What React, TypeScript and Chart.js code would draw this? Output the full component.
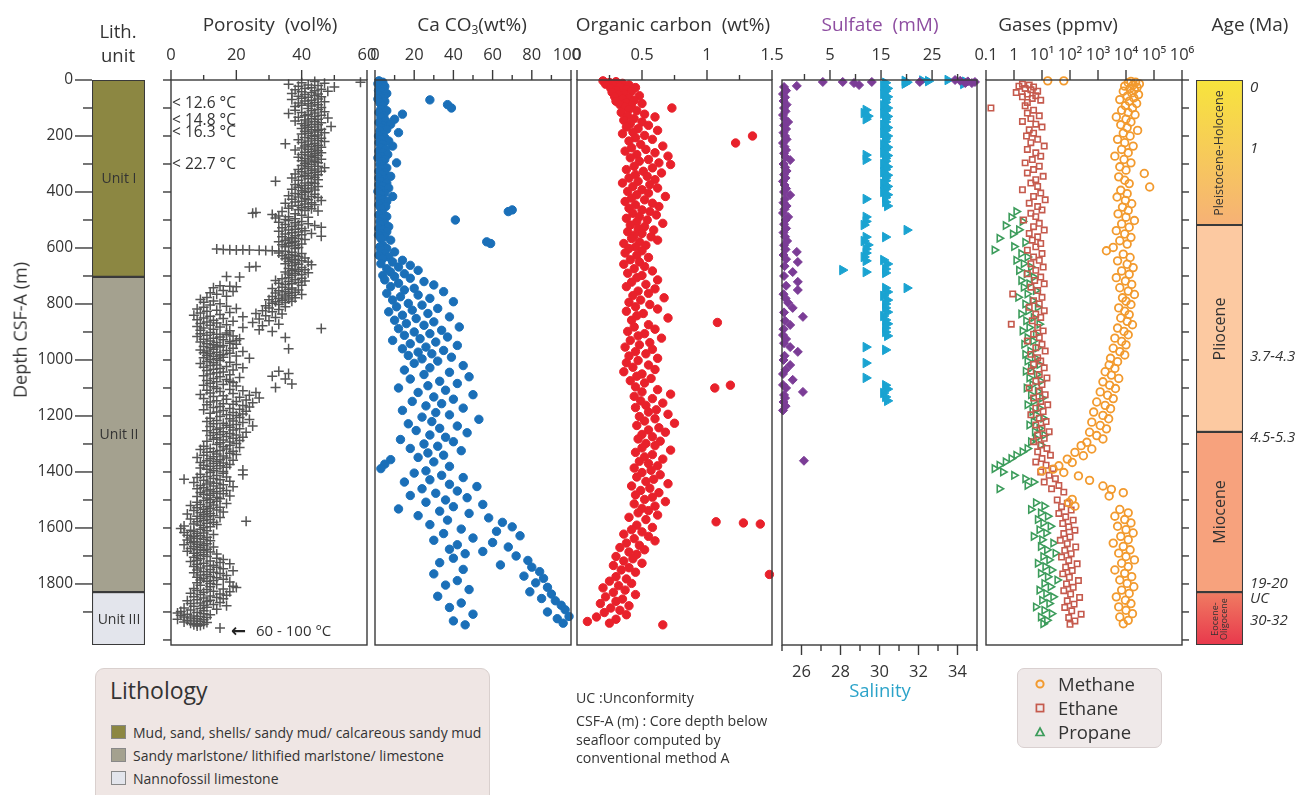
import React, { useEffect, useRef } from 'react';
import { Chart, registerables } from 'chart.js';
Chart.register(...registerables);

const FONT = '"Open Sans", "DejaVu Sans", sans-serif';
const TEXT = '#333333';
const FRAME = '#3a3a3a';
const DEPTH_MAX = 2018;
const PAD = 30;

// ---------- tick labels ----------
const depthTickLabels = [0, 200, 400, 600, 800, 1000, 1200, 1400, 1600, 1800];
const depthMinorTicks = [100, 300, 500, 700, 900, 1100, 1300, 1500, 1700, 1900];
const depthHundreds = [0, 100, 200, 300, 400, 500, 600, 700, 800, 900, 1000, 1100, 1200, 1300, 1400, 1500, 1600, 1700, 1800, 1900, 2000];
const porosityTicks = [0, 20, 40, 60];
const porosityMinor = [10, 30, 50];
const caco3Ticks = [0, 20, 40, 60, 80, 100];
const caco3TickLabels = ['0', '20', '40', '60', '80', '100\u2002'];
const caco3Minor = [10, 30, 50, 70, 90];
const orgCTicks = [0, 0.5, 1, 1.5];
const orgCTickLabels = ['0', '0.5', '1', '1.5'];
const orgCMinor = [0.25, 0.75, 1.25];
const sulfateTicks = [5, 15, 25];
const sulfateMinor = [0, 10, 20, 30];
const salinityTicks = [26, 28, 30, 32, 34];
const salinityMinor = [25, 27, 29, 31, 33, 35];
const gasTicks = [0.1, 1, 10, 100, 1000, 10000, 100000, 1000000];
const gasTickLabels = ['0.1', '1', '10\u00b9', '10\u00b2', '10\u00b3', '10\u2074', '10\u2075', '10\u2076'];

// ---------- lithology & age ----------
const lithUnits = ['Unit I', 'Unit II', 'Unit III'];
const lithTops = [0, 703, 1829];
const lithBases = [703, 1829, 2018];
const lithColors = ['#8c8742', '#a4a18f', '#e3e5ec'];
const lithLegend = ['Mud, sand, shells/ sandy mud/ calcareous sandy mud', 'Sandy marlstone/ lithified marlstone/ limestone', 'Nannofossil limestone'];

const ageEpochs = ['Pleistocene-Holocene', 'Pliocene', 'Miocene', 'Eocene-\nOligocene'];
const ageTops = [0, 518, 1257, 1829];
const ageBases = [518, 1257, 1829, 2018];
const ageColorTop = ['#f7e43c', '#fcc9a1', '#f7a27d', '#f07c62'];
const ageColorBottom = ['#f6b176', '#fcc9a1', '#f7a27d', '#e8384c'];
const ageLabels = ['0', '1', '3.7-4.3', '4.5-5.3', '19-20', 'UC', '30-32'];
const ageLabelDepths = [25, 243, 986, 1275, 1796, 1850, 1929];

// ---------- data: [depth (m), value] ----------
const porosityData = [
  [5,44],[8,58],[10,40],[12,47],[15,36],[18,42],[20,45],[22,39],[25,50],[28,43],[30,41],[33,46],[35,38],[38,44],[40,48],[42,40],[45,43],[48,37],[50,45],[52,41],[55,44],[58,39],[60,46],[62,42],[65,40],[68,45],[70,37],[72,43],[75,41],[78,47],[80,44],[82,39],[85,42],[88,45],[90,40],[93,43],[95,38],[98,46],
  [102,42],[105,45],[108,38],[110,43],[113,47],[116,40],[118,44],[120,36],[123,42],[126,46],[128,41],[130,44],[133,39],[136,48],[138,43],[140,45],[143,41],[146,38],[148,44],[150,42],[153,46],[156,40],[158,43],[160,45],[163,41],[166,49],[168,44],[170,42],[173,40],[176,46],[178,43],[180,45],[183,41],[186,44],[188,47],[190,42],[193,40],[196,45],[198,43],
  [202,44],[205,41],[208,46],[210,43],[213,39],[216,45],[218,42],[220,47],[223,40],[226,44],[228,35],[230,42],[233,45],[236,41],[238,43],[240,46],[243,40],[246,44],[248,42],[250,38],[253,45],[256,43],[258,41],[260,46],[263,44],[266,40],[268,42],[270,45],[273,43],[276,39],[278,44],[280,41],[283,46],[286,43],[288,40],[290,44],[293,42],[296,45],[298,41],
  [302,43],[305,40],[308,45],[310,42],[313,47],[316,41],[318,44],[320,39],[323,43],[326,46],[328,40],[330,44],[333,42],[336,38],[338,45],[340,41],[343,43],[346,40],[348,44],[350,37],[353,42],[356,45],[358,39],[362,32],[365,43],[368,41],[370,44],[373,38],[376,42],[378,40],[380,45],[383,39],[386,43],[388,41],[390,37],[393,44],[396,40],[398,42],
  [402,41],[405,38],[408,44],[410,40],[413,36],[416,43],[418,39],[420,45],[423,41],[426,37],[428,42],[430,46],[433,40],[436,38],[438,43],[440,35],[443,41],[446,44],[448,39],[450,37],[453,42],[456,40],[458,36],[460,43],[463,39],[466,41],[468,45],[470,34],[473,26],[476,25],[478,38],[480,31],[483,40],[486,33],[488,36],[490,42],[493,32],[496,38],[498,35],
  [502,36],[505,40],[508,33],[510,38],[513,42],[516,35],[518,39],[520,44],[523,37],[526,46],[528,34],[530,40],[533,38],[536,36],[538,41],[540,33],[543,39],[546,37],[548,43],[550,35],[553,40],[556,38],[558,46],[560,34],[563,37],[566,39],[568,36],[570,41],[573,35],[576,38],[578,33],[580,37],[583,36],[586,40],[588,34],[590,38],[593,36],[596,35],[598,39],
  [602,38],[604,14],[605,16],[606,18],[607,20],[606,22],[607,24],[608,27],[609,29],[610,31],[611,33],[612,35],[615,37],[618,33],[620,40],[623,36],[626,38],[628,34],[630,39],[633,36],[636,41],[638,35],[640,38],[643,37],[646,40],[648,36],[650,42],[653,38],[656,35],[658,39],[660,43],[663,37],[666,26],[668,24],[670,40],[673,36],[676,38],[678,41],[680,37],[683,39],[686,35],[688,42],[690,38],[693,36],[696,40],[698,37],
  [702,17],[704,21],[706,36],[708,40],[710,34],[713,38],[716,32],[718,41],[720,36],[723,39],[726,33],[728,37],[730,35],[733,40],[735,15],[737,18],[738,20],[740,34],[742,13],[743,37],[745,31],[748,36],[750,39],[752,16],[753,33],[755,19],[756,35],[758,38],[760,12],[761,32],[763,36],[765,14],[766,40],[768,34],[770,37],[772,17],[773,31],[775,35],[777,11],[778,38],[780,33],[782,36],[784,9],[785,30],[787,34],[789,13],[790,37],[792,32],[794,10],[795,35],[797,31],[799,15],
  [802,33],[804,12],[806,29],[808,17],[810,35],[812,10],[814,30],[816,20],[818,8],[820,33],[822,14],[824,28],[826,11],[828,31],[830,18],[832,9],[834,26],[836,34],[838,15],[840,7],[842,29],[844,12],[846,22],[848,32],[850,10],[852,16],[854,27],[856,8],[858,13],[860,30],[862,19],[864,11],[866,25],[868,14],[870,9],[872,33],[874,17],[876,12],[878,28],[880,8],[882,15],[884,22],[886,10],[888,46],[890,13],[892,27],[894,9],[896,18],[898,31],
  [902,12],[904,17],[906,9],[908,14],[910,17],[912,11],[914,19],[916,8],[918,15],[920,35],[922,13],[924,21],[926,10],[928,16],[930,20],[932,12],[934,18],[936,9],[938,14],[940,18],[942,11],[944,20],[946,13],[948,16],[950,14],[952,10],[954,15],[956,12],[958,19],[960,36],[962,13],[964,9],[966,17],[968,11],[970,22],[972,14],[974,10],[976,18],[978,12],[980,16],[982,15],[984,11],[986,20],[988,13],[990,16],[992,10],[994,24],[996,14],[998,12],
  [1002,15],[1005,11],[1008,18],[1010,13],[1013,9],[1016,20],[1018,14],[1020,12],[1023,17],[1026,10],[1028,22],[1030,15],[1033,13],[1036,19],[1038,11],[1040,33],[1043,16],[1046,14],[1048,36],[1050,12],[1053,18],[1056,10],[1058,31],[1060,15],[1063,21],[1066,13],[1068,35],[1070,17],[1073,11],[1076,18],[1078,14],[1080,19],[1083,12],[1086,37],[1088,16],[1090,10],[1093,20],[1096,13],[1098,32],
  [1102,14],[1105,18],[1108,11],[1110,22],[1113,15],[1116,26],[1118,12],[1120,19],[1123,9],[1126,24],[1128,16],[1130,13],[1133,21],[1136,27],[1138,10],[1140,17],[1143,23],[1146,14],[1148,20],[1150,12],[1153,25],[1156,16],[1158,19],[1160,11],[1163,22],[1166,15],[1168,24],[1170,13],[1173,18],[1176,21],[1178,10],[1180,16],[1183,23],[1186,14],[1188,19],[1190,12],[1193,22],[1196,17],[1198,20],
  [1202,15],[1205,21],[1208,12],[1210,18],[1213,24],[1216,14],[1218,19],[1220,11],[1223,22],[1226,16],[1228,13],[1230,20],[1233,17],[1236,25],[1238,12],[1240,18],[1243,15],[1246,21],[1248,14],[1250,19],[1253,11],[1256,16],[1258,23],[1260,13],[1263,18],[1266,15],[1268,20],[1270,12],[1273,17],[1276,22],[1278,14],[1280,19],[1283,13],[1286,16],[1288,21],[1290,11],[1293,18],[1296,15],[1298,20],
  [1302,14],[1305,18],[1308,10],[1310,16],[1313,21],[1316,12],[1318,17],[1320,9],[1323,15],[1326,19],[1328,13],[1330,11],[1333,18],[1336,14],[1338,20],[1340,10],[1343,16],[1346,13],[1348,8],[1350,17],[1353,12],[1356,15],[1358,19],[1360,11],[1363,14],[1366,9],[1368,16],[1370,13],[1373,18],[1376,10],[1378,15],[1380,12],[1383,17],[1386,9],[1388,14],[1390,11],[1393,22],[1396,13],[1398,16],
  [1402,12],[1405,16],[1408,9],[1410,22],[1413,14],[1416,11],[1418,17],[1420,8],[1423,13],[1426,4],[1428,15],[1430,10],[1433,18],[1436,12],[1438,7],[1440,14],[1443,11],[1446,16],[1448,9],[1450,13],[1453,19],[1456,10],[1458,15],[1460,8],[1463,12],[1466,17],[1468,11],[1470,14],[1473,9],[1476,13],[1478,16],[1480,10],[1483,12],[1486,18],[1488,8],[1490,14],[1493,11],[1496,15],[1498,12],
  [1502,10],[1505,14],[1508,8],[1510,12],[1513,17],[1516,9],[1518,13],[1520,6],[1523,11],[1526,15],[1528,8],[1530,12],[1533,10],[1536,14],[1538,7],[1540,11],[1543,16],[1546,9],[1548,12],[1550,5],[1553,10],[1556,13],[1558,8],[1560,11],[1563,15],[1566,9],[1568,6],[1570,12],[1573,10],[1576,23],[1578,8],[1580,13],[1583,11],[1586,7],[1588,14],[1590,9],[1593,4],[1596,12],[1598,10],
  [1602,3],[1605,9],[1608,6],[1610,11],[1613,7],[1616,4],[1618,10],[1620,8],[1623,13],[1626,5],[1628,9],[1630,7],[1633,11],[1636,6],[1638,8],[1640,10],[1643,5],[1646,12],[1648,7],[1650,9],[1653,6],[1656,11],[1658,8],[1660,4],[1663,10],[1666,7],[1668,13],[1670,9],[1673,6],[1676,11],[1678,8],[1680,10],[1683,5],[1686,12],[1688,9],[1690,7],[1693,14],[1696,10],[1698,8],
  [1702,11],[1705,7],[1708,14],[1710,9],[1713,16],[1716,8],[1718,12],[1720,6],[1723,15],[1726,10],[1728,18],[1730,8],[1733,13],[1736,11],[1738,7],[1740,14],[1743,9],[1746,16],[1748,12],[1750,8],[1753,19],[1756,10],[1758,13],[1760,7],[1763,15],[1766,11],[1768,9],[1770,17],[1773,12],[1776,8],[1778,14],[1780,10],[1783,16],[1786,9],[1788,13],[1790,11],[1793,18],[1796,8],[1798,12],
  [1802,14],[1805,9],[1808,19],[1810,12],[1813,20],[1816,7],[1818,16],[1820,11],[1823,8],[1826,13],[1828,18],[1830,10],[1833,6],[1836,15],[1838,9],[1840,17],[1843,12],[1846,7],[1848,14],[1850,10],[1853,16],[1856,8],[1858,12],[1860,5],[1863,11],[1866,15],[1868,9],[1870,6],[1873,13],[1876,10],[1878,17],[1880,7],[1883,11],[1886,4],[1888,9],[1890,14],[1893,6],[1896,10],[1898,3],
  [1902,8],[1904,2],[1906,10],[1908,5],[1910,12],[1912,3],[1914,7],[1916,9],[1918,4],[1920,11],[1922,6],[1924,8],[1926,2],[1928,10],[1930,5],[1932,7],[1934,9],[1936,4],[1938,11],[1940,6],[1942,8],[1944,10],[1946,7],[1948,9],[1950,8],[1957,15]
];

const caco3Data = [
  [3,2],[8,4],[13,1.5],[18,3],[23,5],[28,2.5],[33,4],[38,1.8],[43,3.5],[48,6],[53,2],[58,4.5],[63,3],[68,1.5],[71,28],[76,5],[82,2.5],[88,37],[93,4],[100,39],[104,3],[110,6],[116,2],[122,14],[128,4.5],[134,3],[140,10],[146,5.5],[152,2],[158,8],[164,4],[170,3],[176,6],[182,2.5],[188,12],[194,4],[200,1.8],[206,5],[212,3],[218,7],[224,2],[230,4],[236,9],[242,3],[248,5.5],[254,2],[260,4],[266,6.5],[272,3],[278,1.5],[284,5],[290,3.5],[296,11],
  [302,2.5],[308,4],[314,6],[320,3],[326,2],[332,5],[338,3.5],[344,8],[350,2],[356,4.5],[362,3],[368,6],[374,2],[380,4],[386,7],[392,3],[398,1.5],[404,5],[410,3],[416,9],[422,2.5],[428,4],[434,6],[440,3],[446,2],[452,5.5],[458,3],[464,70],[470,68],[476,4],[482,2],[488,6],[494,3.5],[500,41],[506,2.5],[512,5],[518,3],[524,7],[530,2],[536,4],[542,6],[548,3],[554,1.8],[560,5],[566,3],[572,8],[578,57],[584,59],[590,4],[596,2.5],[602,6],[608,3],[614,10],[620,5],[626,2],[632,7],[638,4],[644,14],[650,9],[656,3],[662,18],[668,12],[674,6],[680,22],[686,8],[692,15],[698,4],
  [702,10],[708,18],[714,5],[720,25],[726,12],[732,30],[738,8],[744,20],[750,15],[756,35],[762,6],[768,22],[774,13],[780,28],[786,9],[792,40],[798,17],[804,24],[810,11],[816,32],[822,19],[828,7],[834,27],[840,14],[846,38],[852,21],[858,10],[864,30],[870,16],[876,25],[882,43],[888,12],[894,34],[900,20],[906,28],[912,15],[918,37],[924,23],[930,9],[936,31],[942,18],[948,42],[954,26],[960,14],[966,35],[972,22],[978,29],[984,17],[990,39],[996,24],
  [1004,32],[1012,20],[1020,45],[1028,28],[1036,15],[1044,38],[1052,25],[1060,48],[1068,18],[1076,33],[1084,42],[1092,27],[1100,12],[1108,36],[1116,22],[1124,50],[1132,30],[1140,40],[1148,19],[1156,34],[1164,26],[1172,45],[1180,14],[1188,31],[1196,38],[1204,24],[1212,53],[1220,29],[1228,17],[1236,42],[1244,33],[1252,21],[1260,47],[1268,28],[1276,36],[1284,13],[1292,40],[1300,25],[1308,32],[1316,18],[1324,44],[1332,27],[1340,35],[1348,22],[1356,8],[1364,30],[1372,5],[1380,38],[1388,3],[1396,26],
  [1404,20],[1412,34],[1420,45],[1428,28],[1436,15],[1444,38],[1452,52],[1460,24],[1468,42],[1476,31],[1484,18],[1492,47],[1500,36],[1508,26],[1516,55],[1524,40],[1532,12],[1540,33],[1548,48],[1556,22],[1564,58],[1572,37],[1580,65],[1588,28],[1596,70],[1604,44],[1612,62],[1620,35],[1628,74],[1636,50],[1644,30],[1652,60],[1660,42],[1668,68],[1676,38],[1684,55],[1692,46],
  [1700,72],[1708,40],[1716,78],[1724,33],[1732,64],[1740,80],[1748,45],[1756,84],[1764,30],[1772,76],[1780,86],[1788,42],[1796,82],[1804,36],[1812,88],[1820,48],[1828,79],[1836,90],[1844,32],[1852,85],[1860,92],[1868,44],[1876,95],[1884,38],[1892,97],[1900,88],[1908,50],[1916,99],[1924,93],[1932,40],[1940,96],[1946,46]
];

const orgCData = [
  [3,0.2],[6,0.3],[9,0.25],[12,0.35],[15,0.22],[18,0.4],[21,0.28],[24,0.33],[27,0.45],[30,0.26],[33,0.38],[36,0.3],[40,0.42],[44,0.27],[48,0.36],[52,0.32],[56,0.48],[60,0.29],[64,0.4],[68,0.35],[72,0.44],[76,0.3],[80,0.38],[84,0.5],[88,0.33],[92,0.42],[96,0.37],[100,0.73],
  [104,0.4],[110,0.46],[116,0.34],[122,0.52],[128,0.39],[132,0.6],[138,0.44],[144,0.36],[150,0.5],[156,0.41],[162,0.55],[168,0.38],[174,0.47],[180,0.62],[186,0.43],[192,0.35],[198,0.52],[200,1.35],[206,0.45],[212,0.58],[218,0.4],[225,1.22],[230,0.49],[236,0.66],[242,0.42],[248,0.53],[254,0.37],[260,0.6],[266,0.46],[272,0.7],[278,0.41],[284,0.55],[290,0.48],[296,0.63],
  [302,0.72],[308,0.44],[314,0.58],[320,0.38],[326,0.51],[332,0.65],[338,0.45],[344,0.54],[350,0.4],[356,0.6],[362,0.47],[368,0.35],[374,0.56],[380,0.43],[386,0.62],[392,0.5],[398,0.39],[404,0.55],[410,0.46],[416,0.68],[422,0.42],[428,0.52],[434,0.37],[440,0.58],[446,0.45],[452,0.63],[458,0.4],[464,0.5],[470,0.56],[476,0.43],[482,0.61],[488,0.48],[494,0.38],[500,0.54],[506,0.46],[512,0.66],[518,0.41],[524,0.52],[530,0.47],[536,0.59],[542,0.39],[548,0.5],[554,0.44],[560,0.57],[566,0.42],[572,0.62],[578,0.48],[584,0.36],[590,0.53],[596,0.45],
  [602,0.4],[610,0.5],[618,0.37],[626,0.46],[634,0.55],[642,0.41],[650,0.48],[658,0.36],[666,0.52],[674,0.44],[682,0.58],[690,0.39],[698,0.5],[706,0.46],[714,0.62],[722,0.42],[730,0.53],[738,0.38],[746,0.6],[754,0.47],[762,0.55],[770,0.43],[778,0.67],[786,0.49],[794,0.4],[802,0.56],[810,0.45],[818,0.62],[826,0.38],[834,0.51],[842,0.46],[850,0.7],[858,0.42],[866,1.08],[874,0.55],[882,0.44],[890,0.6],[898,0.39],[906,0.52],[914,0.47],[922,0.65],[930,0.41],[938,0.56],[946,0.48],[954,0.37],[962,0.58],[970,0.45],[978,0.53],[986,0.4],[994,0.62],
  [1002,0.47],[1010,0.38],[1018,0.55],[1026,0.43],[1034,0.6],[1042,0.36],[1050,0.5],[1058,0.46],[1066,0.57],[1074,0.41],[1082,0.52],[1090,1.18],[1096,0.45],[1100,1.06],[1106,0.62],[1114,0.5],[1122,0.72],[1130,0.44],[1138,0.58],[1146,0.49],[1154,0.66],[1162,0.53],[1170,0.45],[1178,0.61],[1186,0.55],[1194,0.7],[1202,0.48],[1210,0.6],[1218,0.52],[1226,0.75],[1234,0.46],[1242,0.63],[1250,0.55],[1258,0.68],[1266,0.5],[1274,0.58],[1282,0.47],[1290,0.64],[1298,0.53],
  [1306,0.6],[1314,0.5],[1322,0.72],[1330,0.45],[1338,0.58],[1346,0.52],[1354,0.66],[1362,0.48],[1370,0.55],[1378,0.62],[1386,0.44],[1394,0.57],[1402,0.5],[1410,0.64],[1418,0.46],[1426,0.59],[1434,0.53],[1442,0.7],[1450,0.42],[1458,0.56],[1466,0.49],[1474,0.63],[1482,0.45],[1490,0.58],[1498,0.52],[1506,0.68],[1514,0.44],[1522,0.6],[1530,0.5],[1538,0.55],[1546,0.47],[1554,0.62],[1562,0.4],[1570,0.53],[1578,1.07],[1582,1.28],[1586,1.41],[1590,0.46],
  [1598,0.58],[1606,0.42],[1614,0.5],[1622,0.36],[1630,0.55],[1638,0.44],[1646,0.6],[1654,0.38],[1662,0.48],[1670,0.33],[1678,0.52],[1686,0.4],[1694,0.46],[1702,0.3],[1710,0.43],[1718,0.36],[1726,0.5],[1734,0.28],[1742,0.4],[1750,0.34],[1758,0.45],[1766,1.48],[1774,0.3],[1782,0.38],[1790,0.25],[1798,0.42],[1806,0.32],[1814,0.2],[1822,0.37],[1830,0.28],[1838,0.45],[1846,0.22],[1854,0.35],[1862,0.3],[1870,0.18],[1878,0.4],[1886,0.26],[1894,0.33],[1902,0.21],[1910,0.38],[1918,0.15],[1926,0.3],[1934,0.08],[1940,0.25],[1946,0.66]
];

const sulfateData = [
  [0,29.5],[7,3.6],[7,7.5],[11,9.7],[18,10.7],[7,13.2],[7,22.6],[11,31.5],[11,32.8],[7,33.4],[21,-1.5],[3,30.5],[5,32],
  [25,-4.0],[38,-3.6],[50,-4.2],[62,-3.8],[75,-4.1],[88,-3.5],[100,-4.0],[112,-3.7],[125,-4.2],[138,-3.9],[150,-3.2],[162,-4.0],[175,-3.6],[188,-4.1],[200,-3.8],[212,-3.5],[225,-4.2],[238,-3.9],[250,-3.6],[262,-4.0],[275,-3.7],[286,-2.8],[300,-4.1],[312,-3.8],[325,-3.5],[338,-4.0],[350,-3.7],[362,-4.2],[375,-3.9],[388,-3.6],[400,-4.0],[411,-2.8],[425,-3.8],[438,-4.1],[450,-3.5],[462,-3.9],[475,-4.2],[489,-3.2],[500,-3.7],[515,-4.0],[530,-3.6],[545,-4.1],[560,-3.8],[575,-3.4],[590,-4.0],[605,-3.7],[614,-1.5],[625,-4.1],[640,-3.6],[650,-1.3],[665,-3.9],[686,-2.3],[700,-4.0],[721,-1.3],[735,-3.6],[750,-1.3],[765,-4.1],[780,-3.7],[796,-3.2],[814,-2.3],[830,-4.0],[846,-0.3],[860,-3.8],[875,-2.8],[890,-4.1],[911,-4.2],[925,-3.6],[940,-4.0],[954,-2.8],[971,-1.3],[985,-3.9],[1000,-4.1],[1018,-2.8],[1035,-3.7],[1050,-4.2],[1071,-2.3],[1089,-4.2],[1100,-3.6],[1114,-0.3],[1125,-4.0],[1136,-3.8],[1150,-4.1],[1165,-3.7],[1180,-4.2],[1360,-0.1]
];

const salinityData = [
  [3,31.3],[8,31.4],[13,31.3],[0,33.5],[6,34.4],[14,34.3],[2,32.2],[4,32.5],
  [10,30.3],[20,30.2],[30,30.4],[40,30.3],[50,30.2],[60,30.4],[70,30.3],[80,30.3],[90,30.2],[100,30.4],[110,30.3],[120,30.2],[130,30.4],[140,30.3],[150,30.3],[160,30.2],[170,30.4],[180,30.3],[190,30.2],[200,30.4],[210,30.3],[220,30.3],[230,30.2],[240,30.4],[250,30.3],[260,30.2],[270,30.4],[280,30.3],[290,30.3],[300,30.2],[310,30.4],[320,30.3],[330,30.2],[340,30.4],[350,30.3],[360,30.3],[370,30.2],[380,30.4],[390,30.3],[400,30.2],[410,30.4],[420,30.3],
  [436,30.3],[450,30.4],[561,30.3],[643,30.2],[657,30.4],[675,30.3],[689,30.3],[743,30.3],[757,30.4],[771,30.2],[786,30.4],[800,30.3],[814,30.3],[829,30.4],[843,30.2],[857,30.3],[871,30.4],[886,30.3],[900,30.3],[914,30.4],[964,30.3],[1090,30.3],[1104,30.4],[1118,30.2],[1132,30.3],[1146,30.4],
  [107,29.3],[118,29.2],[129,29.4],[140,29.3],[268,29.3],[285,29.3],[425,29.3],[489,29.3],[505,29.3],[518,29.2],[561,29.3],[575,29.2],[589,29.4],[604,29.3],[618,29.3],[632,29.2],[646,29.3],[686,29.3],[954,29.3],[1011,29.3],[1064,29.3],
  [536,31.4],[743,31.4],[679,28.1]
];

const methaneData = [
  [3,16],[3,60],[5,15000],[8,22000],[10,12000],[14,30000],[18,18000],[22,9000],[26,25000],[30,14000],[35,20000],[40,8000],[46,16000],[52,28000],[58,11000],[64,19000],[70,6000],[76,13000],[84,24000],[92,9500],[100,17000],[108,7000],[116,12000],[124,21000],[132,4500],[140,10000],[150,15000],[160,6500],[170,11000],[180,26000],[190,8000],[200,14000],[212,5000],[224,9000],[236,18000],[248,7000],[260,12000],[272,4000],[284,8500],[296,15000],[310,6000],[322,10000],[334,45000],[346,5500],[358,9000],[370,13000],[382,70000],[394,6500],[406,11000],[418,4800],[430,9500],[442,16000],[454,7500],[466,12000],[478,5200],[490,10000],[502,20000],[514,7000],[526,13000],[538,4500],[550,9000],[562,15000],[574,6000],[586,11000],[598,3500],
  [610,2000],[622,8000],[634,14000],[646,5000],[658,11000],[670,18000],[682,7000],[694,13000],[706,4500],[718,9500],[730,16000],[742,6000],[754,12000],[766,20000],[778,7500],[790,10000],[802,15000],[814,5500],[826,9000],[838,13000],[850,6500],[862,11000],[874,17000],[886,5000],[898,8500],[910,12000],[922,4000],[934,7000],[946,10000],[958,3500],[970,6000],[982,9000],[994,2800],
  [1006,5000],[1018,2500],[1030,4000],[1042,1800],[1054,3000],[1066,5500],[1078,1500],[1090,2600],[1102,4200],[1114,1200],[1126,2200],[1138,3500],[1150,900],[1162,1800],[1174,2800],[1186,700],[1198,1500],[1210,2400],[1222,600],[1234,1200],[1246,2000],[1258,500],[1270,900],[1282,1500],
  [1294,400],[1306,250],[1318,600],[1330,150],[1342,300],[1354,80],[1366,120],[1378,40],[1390,25],[1396,10],[1402,60],[1414,200],[1430,500],[1450,1500],
  [1462,3000],[1474,8000],[1486,2500],[1498,120],[1510,90],[1522,150],[1534,6000],[1546,12000],[1558,4000],[1570,9000],[1582,15000],[1594,5000],[1606,10000],[1618,18000],[1630,6500],[1642,12000],[1654,3500],[1666,8000],[1678,14000],[1690,5500],[1702,10000],[1714,20000],[1726,7000],[1738,12000],[1750,4000],[1762,9000],[1774,16000],[1786,6000],[1798,11000],[1810,19000],[1822,7000],[1834,13000],[1846,4500],[1858,9500],[1870,15000],[1882,5500],[1894,10000],[1906,17000],[1918,6000],[1930,12000],[1942,8000]
];

const ethaneData = [
  [15,2],[18,3.5],[22,1.5],[25,5],[30,2.5],[35,4],[40,7],[45,1.2],[50,3],[56,6],[60,2],[66,4.5],[72,9],[80,3],[92,2.5],[100,0.15],[108,5],[118,3],[128,8],[138,4],[148,2],[158,6],[168,10],[178,3.5],[190,5],[200,2.8],[212,7],[224,4],[236,12],[248,3],[260,6],[272,9],[284,4.5],[296,2.5],[308,8],[320,5],[332,3],[344,11],[356,6],[368,4],[380,7],[392,2],[404,9],[416,5],[428,13],[440,3.5],[452,7],[464,10],[476,4],[488,6],[500,2.2],[512,8],[524,5],[536,12],[548,3.5],[560,7],[572,4.5],[584,9],[596,6],[608,3],[620,10],[632,5],[644,8],[656,4],[668,11],[680,6],[692,3],[704,9],[716,5.5],[728,12],[740,4],[752,7],[764,0.9],[776,10],[788,5],[800,8],[812,3.5],[824,12],[836,6],[848,9],[860,4.5],[872,0.8],[884,7],[896,11],[908,5],[920,8],[932,3],[944,10],[956,6],[968,13],[980,4],[992,7],
  [1004,9],[1016,5],[1028,12],[1040,4],[1052,8],[1064,15],[1076,6],[1088,10],[1100,3.5],[1112,8],[1124,13],[1136,5],[1148,9],[1160,16],[1172,6],[1184,11],[1196,4],[1208,8],[1220,14],[1232,6],[1244,10],[1256,18],[1268,7],[1280,12],[1292,5],[1304,9],[1316,15],[1328,7],[1340,20],[1352,10],[1364,6],[1376,14],[1388,25],[1400,9],[1412,18],[1424,30],[1436,12],[1448,40],[1460,22],[1472,60],
  [1500,35],[1512,80],[1524,50],[1536,110],[1548,40],[1560,70],[1572,130],[1584,55],[1596,90],[1608,150],[1620,60],[1632,100],[1644,45],[1656,80],[1668,160],[1680,65],[1692,110],[1704,50],[1716,90],[1728,180],[1740,70],[1752,120],[1764,55],[1776,95],[1788,200],[1800,75],[1812,130],[1824,60],[1836,105],[1848,220],[1860,80],[1872,140],[1884,65],[1896,115],[1908,250],[1920,90],[1932,150],[1944,100]
];

const propaneData = [
  [470,1.2],[490,0.8],[505,2],[520,0.5],[535,1.5],[550,0.9],[565,0.3],[580,2.5],[595,1],[607,0.2],[620,1.8],[632,3],[644,1.2],[656,2.2],[668,4],[680,1.5],[692,2.8],[704,5],[716,1.8],[728,3.5],[740,2.2],[752,6],[764,3],[776,1.4],[788,4.5],[800,2.5],[812,7],[824,3.2],[836,1.8],[848,5],[860,2.7],[872,8],[884,3.5],[896,2],[908,6],[920,3],[932,4.8],[944,2.3],[956,7],[968,3.8],[980,2.5],[992,5.5],
  [1004,3],[1016,8],[1028,4],[1040,2.6],[1052,6.5],[1064,3.5],[1076,9],[1088,4.5],[1100,2.8],[1112,7],[1124,4],[1136,10],[1148,5],[1160,3],[1172,8],[1184,4.5],[1196,6],[1208,11],[1220,5],[1232,3.5],[1244,8],[1256,5.5],[1268,12],[1280,6],[1292,4],[1304,9],[1316,3],[1328,2],[1340,1.2],[1352,0.8],[1364,0.5],[1376,0.3],[1388,0.2],[1400,0.4],[1412,1],[1424,2.5],[1436,5],[1448,3],[1460,0.3],
  [1510,6],[1522,12],[1534,4],[1546,9],[1558,16],[1570,7],[1582,11],[1594,20],[1606,8],[1618,14],[1630,5],[1642,10],[1654,25],[1666,9],[1678,15],[1690,30],[1702,11],[1714,18],[1726,7],[1738,13],[1750,22],[1762,9],[1774,16],[1786,35],[1798,12],[1810,20],[1822,8],[1834,14],[1846,25],[1858,10],[1870,18],[1882,6],[1894,12],[1906,22],[1918,9],[1930,15],[1942,11]
];

// ---------- helpers ----------
const pts = (arr: number[][]) => arr.map(([d, v]) => ({ x: v, y: d }));

const decorPlugin = {
  id: 'decor',
  afterDraw(chart: any, _a: any, opts: any) {
    const { ctx, chartArea: a, scales } = chart;
    ctx.save();
    ctx.strokeStyle = FRAME;
    ctx.lineWidth = 1.4;
    if (opts.frame) ctx.strokeRect(a.left, a.top, a.right - a.left, a.bottom - a.top);
    (opts.axes || []).forEach((ax: any) => {
      const s = scales[ax.id];
      const y0 = ax.side === 'top' ? a.top : a.bottom;
      const dir = ax.side === 'top' ? -1 : 1;
      ax.groups.forEach((g: any) => g.values.forEach((v: number) => {
        const x = s.getPixelForValue(v);
        ctx.beginPath(); ctx.moveTo(x, y0); ctx.lineTo(x, y0 + dir * g.len); ctx.stroke();
      }));
    });
    if (opts.depth) {
      const s = scales.y;
      const left = opts.depth.side === 'left';
      const x0 = left ? a.left : a.right;
      const dir = left ? -1 : 1;
      opts.depth.groups.forEach((g: any) => g.values.forEach((v: number) => {
        const y = s.getPixelForValue(v);
        ctx.beginPath(); ctx.moveTo(x0, y); ctx.lineTo(x0 + dir * g.len, y); ctx.stroke();
      }));
    }
    ctx.restore();
  },
};

function hAxis(type: string, position: string, min: number, max: number, values: number[], texts: string[], size: number, tl: number, pad: number) {
  return {
    type, position, min, max,
    afterFit: (s: any) => { s.height = size; s.paddingLeft = 0; s.paddingRight = 0; },
    afterBuildTicks: (s: any) => { s.ticks = values.map((v) => ({ value: v })); },
    ticks: { autoSkip: false, maxRotation: 0, minRotation: 0, padding: pad, color: TEXT, font: { family: FONT, size: 16.5 }, callback: (_v: any, i: number) => texts[i] },
    grid: { display: false, tickLength: tl },
    border: { display: false },
  };
}

const depthY = { type: 'linear', display: false, min: 0, max: DEPTH_MAX, reverse: true };

function scatterConfig(datasets: any[], x: any, decor: any, extra: any = {}, bottomPad = 10) {
  return {
    type: 'scatter',
    data: { datasets },
    options: {
      responsive: false, animation: false, events: [],
      layout: { padding: { left: PAD, right: PAD, top: 0, bottom: bottomPad } },
      plugins: { legend: { display: false }, tooltip: { enabled: false }, decor },
      scales: { x, y: depthY, ...extra },
    },
    plugins: [decorPlugin],
  };
}

function ds(data: number[][], style: any, axis = 'x') {
  return {
    data: pts(data), xAxisID: axis, yAxisID: 'y', clip: false, showLine: false,
    pointStyle: style.shape, pointRadius: style.r, pointRotation: style.rot || 0,
    pointBackgroundColor: style.fill, pointBorderColor: style.stroke, pointBorderWidth: style.w,
    pointHoverRadius: style.r,
  };
}

function ChartBox({ x, w, h, make }: { x: number; w: number; h: number; make: () => any }) {
  const ref = useRef<HTMLCanvasElement | null>(null);
  useEffect(() => {
    const c = new Chart(ref.current as HTMLCanvasElement, make());
    return () => c.destroy();
  }, []);
  return <canvas ref={ref} width={w} height={h} style={{ position: 'absolute', left: x, top: 0, width: w, height: h }} />;
}

function Txt({ x, y, s = 17, c = TEXT, a = 'center', it = false, rot = 0, children, lh = 1.15 }: any) {
  const tx = a === 'center' ? '-50%' : a === 'right' ? '-100%' : '0';
  return (
    <div style={{ position: 'absolute', left: x, top: y, transform: `translate(${tx}, -50%)${rot ? ` rotate(${rot}deg)` : ''}`, fontSize: s, color: c, fontFamily: FONT, fontStyle: it ? 'italic' : 'normal', whiteSpace: 'pre', lineHeight: lh, textAlign: 'center' }}>
      {children}
    </div>
  );
}

// ---------- panel geometry (chart-area left / width) ----------
const P = { por: [171, 196], ca: [375, 196], oc: [577, 195], su: [782, 195], gas: [986, 196] };
const H_PLAIN = 655;
const H_SAL = 695;

const porosityCfg = () => scatterConfig(
  [ds(porosityData, { shape: 'cross', r: 5, fill: '#555', stroke: '#555', w: 1.5 })],
  hAxis('linear', 'top', 0, 60, porosityTicks, porosityTicks.map(String), 80, 9, 6),
  { frame: true, axes: [{ id: 'x', side: 'top', groups: [{ values: porosityTicks, len: 10 }, { values: porosityMinor, len: 5 }] }], depth: { side: 'left', groups: [{ values: depthHundreds, len: 8 }] } }
);
const caco3Cfg = () => scatterConfig(
  [ds(caco3Data, { shape: 'circle', r: 4.2, fill: '#1a6fb8', stroke: '#1a6fb8', w: 1 })],
  hAxis('linear', 'top', 0, 100, caco3Ticks, caco3TickLabels, 80, 9, 6),
  { frame: true, axes: [{ id: 'x', side: 'top', groups: [{ values: caco3Ticks, len: 10 }, { values: caco3Minor, len: 5 }] }] }
);
const orgCCfg = () => scatterConfig(
  [ds(orgCData, { shape: 'circle', r: 4.2, fill: '#e8212b', stroke: '#e8212b', w: 1 })],
  hAxis('linear', 'top', 0, 1.5, orgCTicks, orgCTickLabels, 80, 9, 6),
  { frame: true, axes: [{ id: 'x', side: 'top', groups: [{ values: orgCTicks, len: 10 }, { values: orgCMinor, len: 5 }] }] }
);
const sulfateCfg = () => scatterConfig(
  [
    ds(sulfateData, { shape: 'rectRot', r: 4.5, fill: '#7b3c96', stroke: '#7b3c96', w: 1 }, 'x'),
    ds(salinityData, { shape: 'triangle', r: 5.5, rot: 90, fill: '#1aa3d1', stroke: '#1aa3d1', w: 1 }, 'x2'),
  ],
  hAxis('linear', 'top', -4.4, 33.8, sulfateTicks, sulfateTicks.map(String), 80, 9, 6),
  { frame: true, axes: [
    { id: 'x', side: 'top', groups: [{ values: sulfateTicks, len: 10 }, { values: sulfateMinor, len: 6 }] },
    { id: 'x2', side: 'bottom', groups: [{ values: salinityTicks, len: 10 }, { values: salinityMinor, len: 6 }] },
  ] },
  { x2: hAxis('linear', 'bottom', 25, 35, salinityTicks, salinityTicks.map(String), 50, 10, 7) },
  0
);
const gasCfg = () => scatterConfig(
  [
    ds(methaneData, { shape: 'circle', r: 3.8, fill: 'rgba(255,255,255,0)', stroke: '#f29a2e', w: 1.8 }),
    ds(ethaneData, { shape: 'rect', r: 3.8, fill: 'rgba(255,255,255,0)', stroke: '#c55a4d', w: 1.6 }),
    ds(propaneData, { shape: 'triangle', r: 4.2, rot: 90, fill: 'rgba(255,255,255,0)', stroke: '#3c9c5b', w: 1.6 }),
  ],
  hAxis('logarithmic', 'top', 0.1, 1000000, gasTicks, gasTickLabels, 80, 9, 6),
  { frame: true, axes: [{ id: 'x', side: 'top', groups: [{ values: gasTicks, len: 10 }] }], depth: { side: 'right', groups: [{ values: depthHundreds, len: 7 }] } }
);

const lithCfg = () => ({
  type: 'bar',
  data: {
    labels: ['lith'],
    datasets: lithUnits.map((u, i) => ({
      label: u, data: [[lithTops[i], lithBases[i]]], backgroundColor: lithColors[i], borderColor: FRAME,
      borderWidth: 1.4, borderSkipped: false, grouped: false, barPercentage: 1, categoryPercentage: 1,
    })),
  },
  options: {
    responsive: false, animation: false, events: [],
    layout: { padding: { left: 2, right: 5, top: 80, bottom: 10 } },
    plugins: { legend: { display: false }, tooltip: { enabled: false },
      decor: { depth: { side: 'left', groups: [{ values: depthTickLabels, len: 17 }, { values: depthMinorTicks, len: 9 }] } } },
    scales: {
      x: { display: false },
      y: {
        type: 'linear', position: 'left', min: 0, max: DEPTH_MAX, reverse: true,
        afterFit: (s: any) => { s.width = 60; s.paddingTop = 0; s.paddingBottom = 0; },
        afterBuildTicks: (s: any) => { s.ticks = depthTickLabels.map((v) => ({ value: v })); },
        ticks: { autoSkip: false, padding: 3, color: TEXT, font: { family: FONT, size: 15.5 }, callback: (_v: any, i: number) => String(depthTickLabels[i]) },
        grid: { display: false, tickLength: 16 },
        border: { display: false },
      },
    },
  },
  plugins: [decorPlugin],
});

const ageCfg = () => ({
  type: 'bar',
  data: {
    labels: ['age'],
    datasets: ageEpochs.map((e, i) => ({
      label: e, data: [[ageTops[i], ageBases[i]]],
      backgroundColor: (c: any) => {
        const ch = c.chart;
        if (!ch.chartArea) return ageColorTop[i];
        const y = ch.scales.y;
        const g = ch.ctx.createLinearGradient(0, y.getPixelForValue(ageTops[i]), 0, y.getPixelForValue(ageBases[i]));
        g.addColorStop(0, ageColorTop[i]);
        g.addColorStop(1, ageColorBottom[i]);
        return g;
      },
      borderColor: FRAME, borderWidth: 1.4, borderSkipped: false, grouped: false, barPercentage: 1, categoryPercentage: 1,
    })),
  },
  options: {
    responsive: false, animation: false, events: [],
    layout: { padding: { left: 6, right: 7, top: 80, bottom: 10 } },
    plugins: { legend: { display: false }, tooltip: { enabled: false } },
    scales: { x: { display: false }, y: { ...depthY } },
  },
});

const depthToY = (d: number) => 80 + (d * 565) / DEPTH_MAX;

function Marker({ kind }: { kind: string }) {
  return (
    <svg width="12" height="12" style={{ position: 'absolute', left: -6, top: -6 }}>
      {kind === 'circle' && <circle cx="6" cy="6" r="3.6" fill="none" stroke="#f29a2e" strokeWidth="2" />}
      {kind === 'rect' && <rect x="2.4" y="2.4" width="7.2" height="7.2" fill="none" stroke="#c55a4d" strokeWidth="1.7" />}
      {kind === 'tri' && <polygon points="6,2 10,9.5 2,9.5" fill="none" stroke="#3c9c5b" strokeWidth="1.7" />}
    </svg>
  );
}

export default function App() {
  return (
    <div style={{ position: 'absolute', left: 0, top: 0, width: 1296, height: 795, background: '#fff', overflow: 'hidden', fontFamily: FONT }}>
      <ChartBox x={30} w={120} h={H_PLAIN} make={lithCfg} />
      <ChartBox x={P.por[0] - PAD} w={P.por[1] + 2 * PAD} h={H_PLAIN} make={porosityCfg} />
      <ChartBox x={P.ca[0] - PAD} w={P.ca[1] + 2 * PAD} h={H_PLAIN} make={caco3Cfg} />
      <ChartBox x={P.oc[0] - PAD} w={P.oc[1] + 2 * PAD} h={H_PLAIN} make={orgCCfg} />
      <ChartBox x={P.su[0] - PAD} w={P.su[1] + 2 * PAD} h={H_SAL} make={sulfateCfg} />
      <ChartBox x={P.gas[0] - PAD} w={P.gas[1] + 2 * PAD} h={H_PLAIN} make={gasCfg} />
      <ChartBox x={1190} w={60} h={H_PLAIN} make={ageCfg} />

      {/* titles */}
      <Txt x={118} y={31} s={18.5}>Lith.</Txt>
      <Txt x={118} y={55} s={18.5}>unit</Txt>
      <Txt x={270} y={25} s={19}>{'Porosity  (vol%)'}</Txt>
      <Txt x={472} y={25} s={19}><span>Ca CO</span><sub style={{ fontSize: 12, verticalAlign: -3 }}>3</sub><span>(wt%)</span></Txt>
      <Txt x={673} y={25} s={19}>{'Organic carbon  (wt%)'}</Txt>
      <Txt x={880} y={25} s={19} c="#8e4ea1">{'Sulfate  (mM)'}</Txt>
      <Txt x={1058} y={25} s={19}>Gases (ppmv)</Txt>
      <Txt x={1250} y={25} s={19}>Age (Ma)</Txt>
      <Txt x={20} y={330} s={18} rot={-90}>Depth CSF-A (m)</Txt>

      {/* lithology units */}
      {lithUnits.map((u, i) => (
        <Txt key={u} x={119} y={depthToY((lithTops[i] + lithBases[i]) / 2)} s={14}>{u}</Txt>
      ))}

      {/* temperatures */}
      <Txt x={172} y={103} s={15.5} a="left">{'< 12.6 \u00b0C'}</Txt>
      <Txt x={172} y={120} s={15.5} a="left">{'< 14.8 \u00b0C'}</Txt>
      <Txt x={172} y={132} s={15.5} a="left">{'< 16.3 \u00b0C'}</Txt>
      <Txt x={172} y={164} s={15.5} a="left">{'< 22.7 \u00b0C'}</Txt>
      <Txt x={231} y={630} s={18} a="left" c="#222"><b>{'\u2190'}</b></Txt>
      <Txt x={256} y={631} s={15} a="left">{'60 - 100 \u00b0C'}</Txt>

      {/* age */}
      <Txt x={1219} y={depthToY(259)} s={12.5} rot={-90}>{ageEpochs[0]}</Txt>
      <Txt x={1219} y={depthToY(888)} s={16} rot={-90}>{ageEpochs[1]}</Txt>
      <Txt x={1219} y={depthToY(1543)} s={16} rot={-90}>{ageEpochs[2]}</Txt>
      <Txt x={1219} y={depthToY(1924)} s={9} rot={-90} lh={1}>{ageEpochs[3]}</Txt>
      {ageLabels.map((l, i) => (
        <Txt key={l} x={1250} y={depthToY(ageLabelDepths[i])} s={15} a="left" it>{l}</Txt>
      ))}

      {/* salinity title */}
      <Txt x={880} y={690} s={18.5} c="#2ba3c9">Salinity</Txt>

      {/* notes */}
      <Txt x={576} y={698} s={14.2} a="left">{'UC :Unconformity'}</Txt>
      <div style={{ position: 'absolute', left: 576, top: 712, fontSize: 14.2, lineHeight: '18.5px', color: TEXT, fontFamily: FONT, whiteSpace: 'pre' }}>
        {'CSF-A (m) : Core depth below\nseafloor computed by\nconventional method A'}
      </div>

      {/* lithology legend */}
      <div style={{ position: 'absolute', left: 95, top: 668, width: 395, height: 150, background: '#efe6e4', border: '1px solid #d9d0ce', borderRadius: 9, boxSizing: 'border-box' }}>
        <div style={{ position: 'absolute', left: 14, top: 10, fontSize: 23, color: TEXT, fontFamily: FONT, lineHeight: 1 }}>Lithology</div>
        {lithLegend.map((l, i) => (
          <div key={l} style={{ position: 'absolute', left: 15, top: 56 + i * 23, height: 14, display: 'flex', alignItems: 'center' }}>
            <div style={{ width: 15, height: 14, background: lithColors[i], border: '1px solid #888', boxSizing: 'border-box' }} />
            <div style={{ marginLeft: 7, fontSize: 14, color: TEXT, fontFamily: FONT, whiteSpace: 'nowrap' }}>{l}</div>
          </div>
        ))}
      </div>

      {/* gas legend */}
      <div style={{ position: 'absolute', left: 1017, top: 668, width: 145, height: 80, background: '#efe9e9', border: '1px solid #d9d0d0', borderRadius: 7, boxSizing: 'border-box' }}>
        {[['circle', 'Methane'], ['rect', 'Ethane'], ['tri', 'Propane']].map(([k, l], i) => (
          <div key={l} style={{ position: 'absolute', left: 22, top: 15 + i * 24 }}>
            <Marker kind={k} />
            <div style={{ position: 'absolute', left: 18, top: 0, transform: 'translateY(-50%)', fontSize: 18.5, color: TEXT, fontFamily: FONT, whiteSpace: 'nowrap', lineHeight: 1 }}>{l}</div>
          </div>
        ))}
      </div>
    </div>
  );
}
